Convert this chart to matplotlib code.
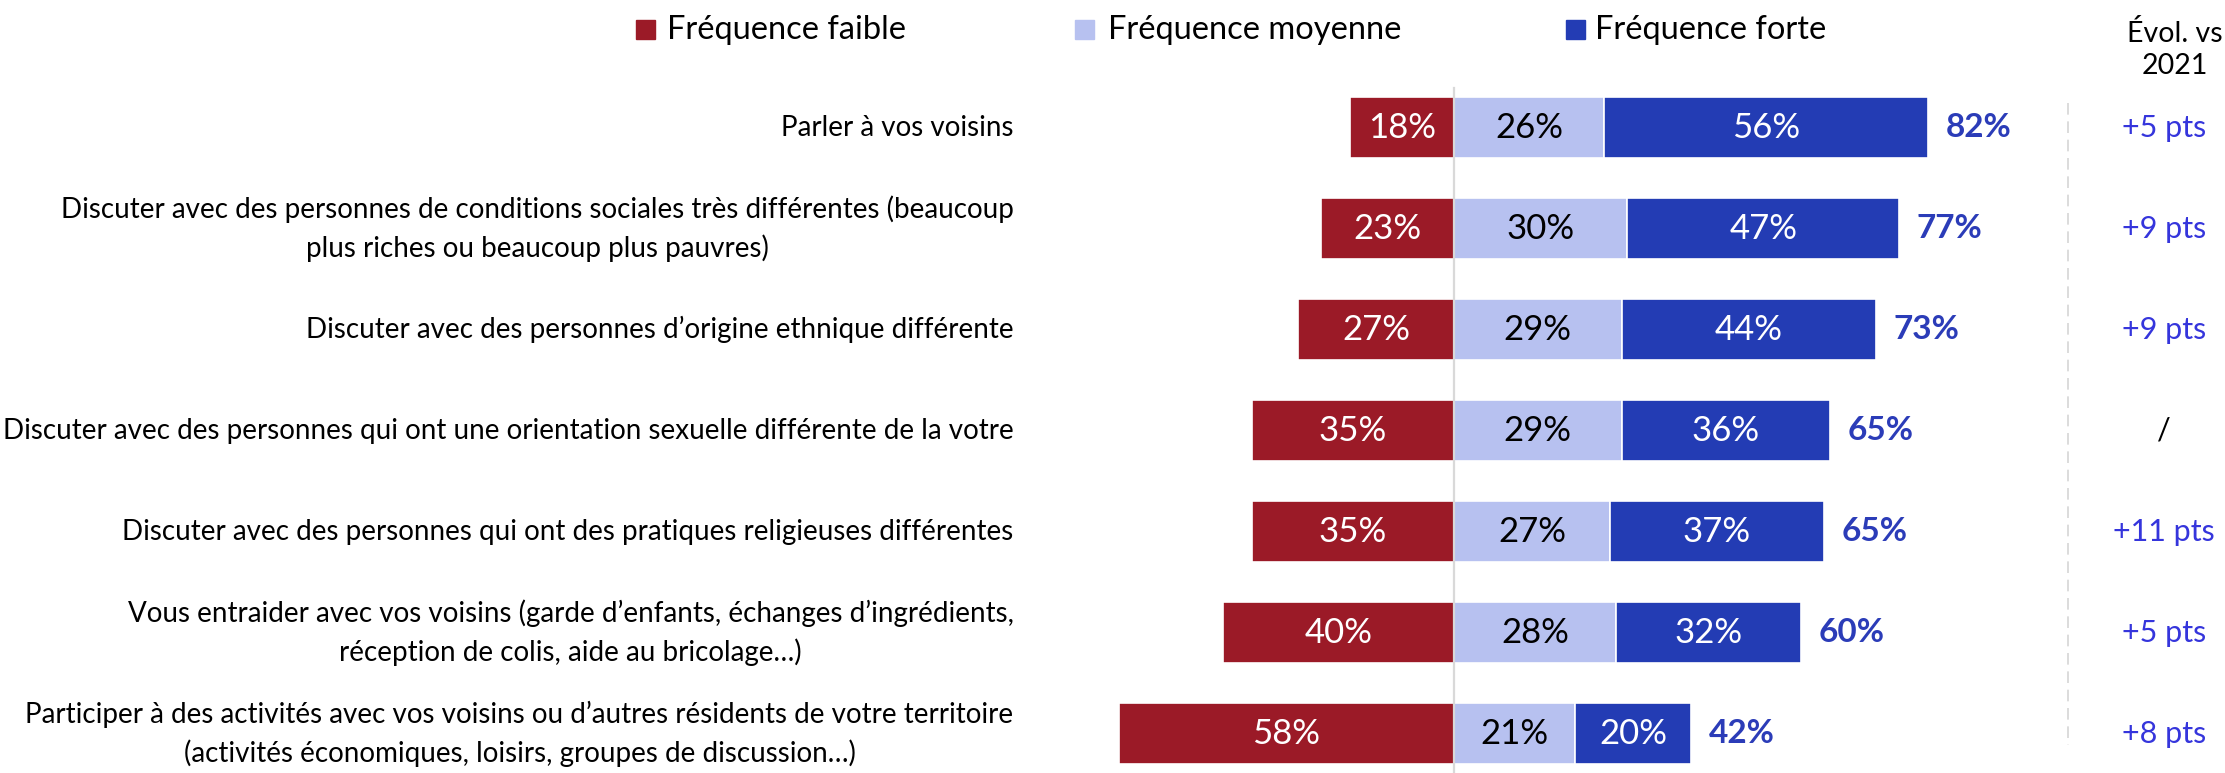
import matplotlib
matplotlib.use("Agg")
import matplotlib.pyplot as plt
from matplotlib.patches import Rectangle

plt.rcParams['font.family'] = ['Lato', 'DejaVu Sans']

# donnees
categories = [
    "Parler à vos voisins",
    "Discuter avec des personnes de conditions sociales très différentes (beaucoup\nplus riches ou beaucoup plus pauvres)",
    "Discuter avec des personnes d’origine ethnique différente",
    "Discuter avec des personnes qui ont une orientation sexuelle différente de la votre",
    "Discuter avec des personnes qui ont des pratiques religieuses différentes",
    "Vous entraider avec vos voisins (garde d’enfants, échanges d’ingrédients,\nréception de colis, aide au bricolage…)",
    "Participer à des activités avec vos voisins ou d’autres résidents de votre territoire\n(activités économiques, loisirs, groupes de discussion…)",
]
faible = [18, 23, 27, 35, 35, 40, 58]
moyenne = [26, 30, 29, 29, 27, 28, 21]
forte = [56, 47, 44, 36, 37, 32, 20]
total = [82, 77, 73, 65, 65, 60, 42]
evol = ["+5 pts", "+9 pts", "+9 pts", "/", "+11 pts", "+5 pts", "+8 pts"]
series_names = ["Fréquence faible", "Fréquence moyenne", "Fréquence forte"]

c_faible = "#9B1A27"
c_moy = "#B7C1F0"
c_forte = "#233CB4"
c_total = "#2B3CB8"
c_evol = "#3535DC"

W, H = 2225, 773
fig = plt.figure(figsize=(W / 100, H / 100), dpi=100)
ax = fig.add_axes([0, 0, 1, 1])
# 1 point de % = 5.78 px, zero a x=1454 px
ax.set_xlim(-1454 / 5.78, (W - 1454) / 5.78)
ax.set_ylim((H - 127.5) / 101, -127.5 / 101)
ax.axis("off")

y = list(range(len(categories)))
neg = [-v for v in faible]
ax.barh(y, neg, height=0.6, color=c_faible, edgecolor="white", linewidth=1.2, zorder=2)
ax.barh(y, moyenne, height=0.6, color=c_moy, edgecolor="white", linewidth=1.2, zorder=2)
ax.barh(y, forte, left=moyenne, height=0.6, color=c_forte, edgecolor="white", linewidth=1.2, zorder=2)

# ligne du zero
ax.plot([0, 0], [-0.39, 6.5], color="#D9D9D9", lw=1.6, zorder=3)
# ligne pointillee a droite
ax.plot([106.2, 106.2], [-0.24, 6.11], color="#D6D6D6", lw=1.2, ls=(0, (7, 4)))

for i in y:
    ax.text(-faible[i] / 2, i, f"{faible[i]}%", ha="center", va="center",
            color="white", fontsize=25, zorder=4)
    ax.text(moyenne[i] / 2, i, f"{moyenne[i]}%", ha="center", va="center",
            color="black", fontsize=25, zorder=4)
    ax.text(moyenne[i] + forte[i] / 2, i, f"{forte[i]}%", ha="center", va="center",
            color="white", fontsize=25, zorder=4)
    ax.text(moyenne[i] + forte[i] + 3.1, i, f"{total[i]}%", ha="left", va="center",
            color=c_total, fontsize=24, fontweight="bold")
    ax.text(122.8, i, evol[i], ha="center", va="center",
            color="black" if evol[i] == "/" else c_evol, fontsize=22)
    ax.text(-76.2, i, categories[i], ha="right", va="center", multialignment="center",
            fontsize=20, linespacing=1.5)

# entete colonne evolution
ax.text(124.7, -0.77, "Évol. vs\n2021", ha="center", va="center", fontsize=20.5,
        linespacing=1.3)

# legende
sq_x = [636, 1075, 1566]
tx_x = [667, 1108, 1595]
for sx, tx, name, col in zip(sq_x, tx_x, series_names, [c_faible, c_moy, c_forte]):
    fig.patches.append(Rectangle((sx / W, 1 - 39 / H), 19 / W, 19 / H,
                                 transform=fig.transFigure, color=col))
    fig.text(tx / W, 1 - 30 / H, name, ha="left", va="center", fontsize=23.5)

fig.savefig("out.png", dpi=100)
